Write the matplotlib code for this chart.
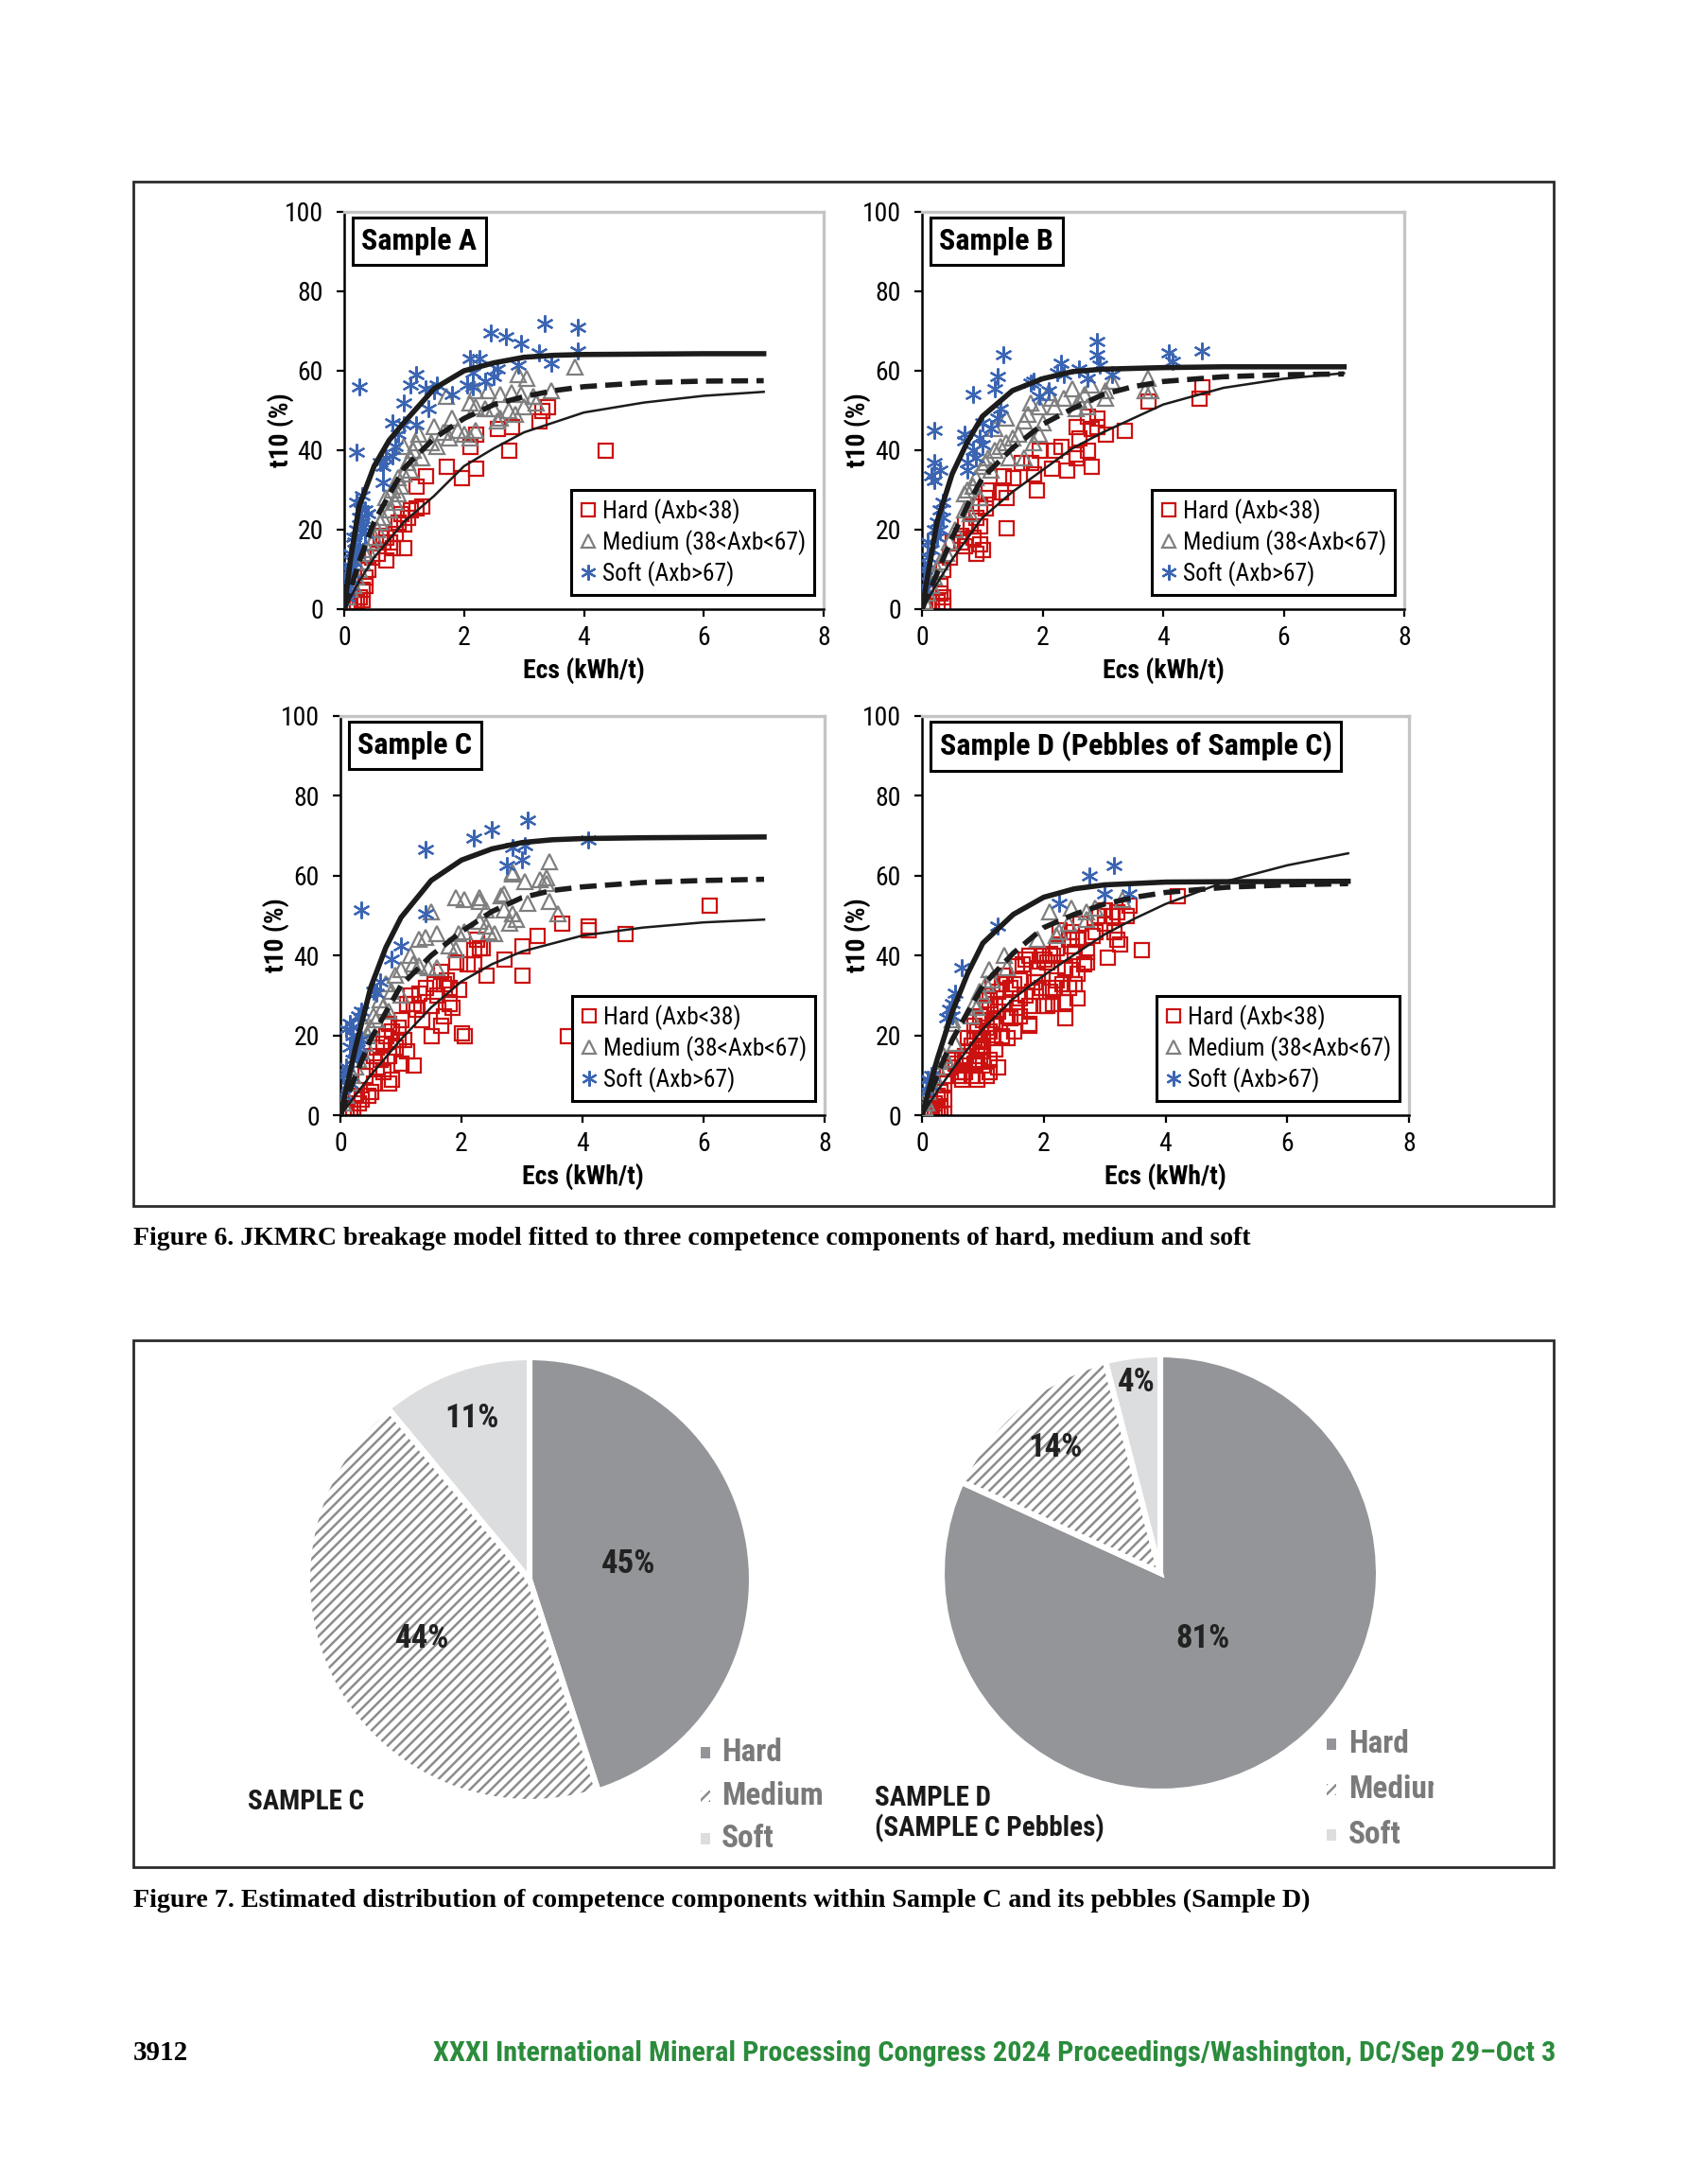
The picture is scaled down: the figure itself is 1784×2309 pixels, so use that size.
import matplotlib
matplotlib.use('Agg')
import matplotlib.pyplot as plt
from matplotlib.patches import Rectangle
from matplotlib.transforms import Bbox
import numpy as np

W, H, DPI = 1784, 2309, 200
NARROW = ['Roboto Condensed', 'Liberation Sans Narrow', 'Liberation Sans', 'DejaVu Sans']
SERIF = ['Liberation Serif', 'DejaVu Serif']
plt.rcParams['font.family'] = NARROW
plt.rcParams['hatch.linewidth'] = 0.9

# ---------------- data: Figure 6 scatter (Ecs kWh/t, t10 %) ----------------
legend_labels = ['Hard (Axb<38)', 'Medium (38<Axb<67)', 'Soft (Axb>67)']
panel_titles = ['Sample A', 'Sample B', 'Sample C', 'Sample D (Pebbles of Sample C)']
x_ticks = [0, 2, 4, 6, 8]
y_ticks = [0, 20, 40, 60, 80, 100]

A_hard = [(4.35,40),(3.4,51),(3.3,50),(3.25,47.5),(2.8,46),(2.55,45.5),(2.2,44),(2.1,41),(2.75,40),(1.7,36),
          (2.2,35.5),(1.95,33),(1.35,33.5),(1.2,31),(1.3,26),(1.2,25.5),(1.1,25),(1.05,23),(1.0,21.5),(0.95,24),
          (0.9,22),(0.85,19),(0.7,18),(0.65,17),(0.6,18.5),(0.75,17),(0.8,15.5),(1.0,15.5),(0.7,12.5),(0.55,14),
          (0.45,13),(0.35,6),(0.3,5),(0.25,3),(0.3,2.5),(0.2,2),(0.1,1),(0.05,0.5),(0.15,1.5),(0.35,8),(0.4,10)]
A_medium = [(3.85,61),(2.9,59),(3.05,58),(3.45,55),(2.2,55),(2.4,55),(2.6,54),(2.8,54.5),(2.95,54),(3.15,53.5),
            (3.2,52),(1.7,53.5),(2.1,52),(2.2,51),(2.35,50.5),(2.5,50.5),(2.6,48),(2.55,47.5),(2.75,50),(2.85,49),
            (3.0,51),(1.8,48),(1.5,46),(1.65,44.5),(1.75,43),(1.9,45),(2.0,44),(2.1,43),(2.2,45),(1.45,42),
            (1.55,41),(1.25,44),(1.15,40),(1.3,38),(1.0,41),(1.05,37),(1.1,35),(0.9,33),(0.95,31),(0.8,30),
            (0.85,27),(0.75,25),(0.65,23),(0.7,28),(0.55,20),(0.5,18),(0.4,15),(0.3,12),(0.25,10),(0.2,8),
            (0.1,5),(0.05,3),(0.15,6),(0.35,14),(0.45,17),(0.6,22),(0.9,29),(1.1,38),(1.2,42),(1.0,34)]
A_soft = [(0.25,56),(0.2,39.5),(2.45,69.5),(2.7,68.5),(2.95,67),(3.35,72),(3.9,71),(3.9,65),(3.25,64.5),(3.45,62),
          (2.9,61.5),(2.1,63),(2.25,63),(2.15,59.5),(2.5,58.5),(2.55,60.5),(2.35,57.5),(2.05,56.5),(2.15,56),(1.2,59),
          (1.1,56.5),(1.35,55.5),(1.5,55),(1.55,56.5),(1.8,54),(1.0,52),(1.4,50.5),(0.8,47),(1.0,46.5),(1.2,46.5),
          (0.9,44),(0.85,41),(0.6,37),(0.7,38),(0.65,36),(0.8,38.5),(0.65,32),(0.3,28.5),(0.2,27),(0.35,25),
          (0.4,24),(0.25,23),(0.3,21),(0.2,20),(0.15,18),(0.25,16),(0.1,14),(0.15,12),(0.1,10),(0.05,8),
          (0.1,6),(0.05,4),(0.3,22),(0.35,19),(0.2,14),(0.08,11),(0.12,9),(0.04,3),(0.18,17),(0.28,25)]

B_hard = [(4.65,56),(4.6,53),(3.75,52.5),(3.35,45),(3.05,44),(2.9,48),(2.9,46),(2.75,48.5),(2.8,45.5),(2.75,40),
          (2.8,36),(2.55,46),(2.6,43),(2.55,39),(2.55,38),(2.4,35),(2.3,41),(2.2,40),(2.15,35.5),(1.95,40),
          (1.9,30),(1.8,37),(1.85,34),(1.65,37),(1.5,33),(1.35,33.5),(1.4,28),(1.3,29.5),(1.4,20.5),(1.1,30),
          (1.05,28),(1.05,25.5),(0.95,26),(0.9,23),(0.95,21),(0.8,21),(0.7,21.5),(0.65,18.5),(0.65,17),(0.7,16),
          (0.85,18),(0.95,16.5),(0.9,14),(1.0,15),(0.5,17),(0.45,13),(0.35,10),(0.3,6),(0.3,4),(0.25,2),
          (0.15,2),(0.1,1),(0.05,0.5),(0.35,1),(0.35,3)]
B_medium = [(3.75,58),(3.7,55),(3.8,55),(3.15,57.5),(3.05,55),(3.05,53),(2.8,56.5),(2.7,54),(2.6,52.5),(2.55,50.5),
            (2.75,51),(2.5,55.5),(2.35,53),(2.2,51),(2.1,54.5),(2.15,53),(1.95,51),(2.0,47),(1.8,52),(1.75,49),
            (1.7,47.5),(1.95,44),(1.85,42),(1.6,44),(1.5,43),(1.4,42),(1.3,41),(1.45,38),(1.7,38),(1.2,40),
            (1.1,38),(1.05,37),(1.0,36),(1.15,35),(1.2,45.5),(1.4,48),(0.9,33),(0.85,31),(0.75,30),(0.7,29),
            (0.95,28),(0.8,24),(0.7,25),(0.55,20),(0.45,17),(0.4,14),(0.3,12),(0.25,10),(0.2,8),(0.15,6),
            (0.1,4),(0.05,2)]
B_soft = [(1.35,64),(1.25,58.5),(1.2,55.5),(0.85,54),(1.3,50.5),(1.25,48),(1.15,45.5),(1.0,47),(0.95,43),(0.85,40),
          (0.7,42.5),(0.7,44),(0.75,37),(0.75,35),(0.9,38),(1.0,41.5),(0.2,45),(0.2,37),(0.3,35),(0.15,33.5),
          (0.2,32.5),(0.35,27),(0.3,25),(0.25,22),(0.2,20),(0.25,18),(0.1,17),(0.15,15),(0.1,13),(0.05,10),
          (0.1,7),(0.05,5),(0.3,20),(0.35,23),(1.85,57.5),(1.8,57),(1.95,53.5),(2.1,55),(2.25,59.5),(2.3,62),
          (2.35,59),(2.6,60.5),(2.75,58),(2.9,67.5),(2.9,64),(2.95,61.5),(3.15,59),(4.1,64.5),(4.15,62.5),(4.65,65)]

C_hard = [(6.1,52.5),(4.7,45.5),(4.1,47.5),(4.1,46.5),(3.65,48),(3.25,45),(3.0,42.5),(3.0,35),(2.7,39),(2.4,35),
          (2.3,42),(2.2,41.5),(2.25,44),(2.35,42),(2.1,38),(2.2,38),(1.9,38.5),(1.65,36),(1.75,34),(1.7,33),
          (1.55,33),(1.6,30),(1.8,32),(1.95,31.5),(1.4,32),(1.3,30.5),(1.15,30),(1.2,28),(1.1,28),(1.25,26.5),
          (1.5,27.5),(1.35,24),(1.65,22.5),(1.5,20),(1.7,25),(1.8,28),(1.85,27),(2.0,20.5),(2.05,20),(3.75,20),
          (1.0,24),(0.95,22),(0.85,21),(0.8,23),(0.75,20),(0.7,18),(0.6,17),(0.55,15),(0.65,14),(0.8,15),
          (0.9,17),(1.05,19),(1.1,16),(1.2,12.5),(0.85,9),(0.8,8),(0.55,8),(0.5,6),(0.45,5),(0.35,4),
          (0.3,3),(0.2,2),(0.15,1.5),(0.1,1),(0.05,0.5),(0.25,5),(0.4,10),(0.6,12),(0.7,11),(0.95,19),(1.0,13)]
C_medium = [(3.45,63.5),(2.85,61),(2.85,60.5),(3.4,59.5),(3.3,59),(3.05,58.5),(3.4,58),(2.7,55.5),(2.65,55),(1.9,54.5),
            (2.05,54),(2.3,54.5),(2.3,53.5),(3.45,53.5),(3.1,53),(2.4,51.5),(1.5,51),(2.7,51.5),(2.85,50.5),(2.9,49),
            (2.8,48),(3.6,50.5),(2.3,48.5),(2.4,47.5),(2.45,46),(2.55,45.5),(1.6,45.5),(1.95,45.5),(2.05,46),(1.3,44),
            (1.4,44.5),(1.8,42.5),(1.9,41.5),(1.15,40),(1.2,38),(1.45,37),(1.6,37),(1.0,36.5),(1.3,37.5),(0.9,35),
            (0.75,33),(0.85,31),(1.0,30),(0.65,29),(0.7,27),(0.55,25),(0.8,26),(0.5,22),(0.45,20),(0.4,18),
            (0.35,16),(0.3,14),(0.25,12),(0.2,10),(0.15,8),(0.1,5),(0.05,3),(0.6,24)]
C_soft = [(0.35,51.5),(1.4,66.5),(2.2,69.5),(2.5,71.5),(3.1,74),(2.85,67),(3.05,67.5),(3.0,64),(2.75,62.5),(4.1,69),
          (1.4,50.5),(1.0,42.5),(0.85,39),(0.65,33.5),(0.55,31),(0.6,30.5),(0.35,26),(0.3,25),(0.15,23),(0.1,21.5),
          (0.2,20),(0.25,18.5),(0.3,17.5),(0.15,17),(0.25,16),(0.3,15),(0.2,14),(0.1,12),(0.05,10),(0.15,8),
          (0.05,5),(0.2,22),(0.35,19),(0.28,16.5)]

D_hard = [(4.2,55),(3.6,41.5),(3.25,43),(3.2,44),(3.15,46),(3.05,39.5),(3.1,50),(3.2,51),(3.0,51.5),(3.4,52.5),
          (3.35,50),(3.0,48),(2.8,45),(2.7,41),(2.65,38),(2.7,38.5),(2.85,46),(2.55,44),(2.5,41),(2.45,42.5),
          (2.4,44),(2.35,37),(2.3,33),(2.45,36.5),(2.55,35.5),(2.5,33),(2.55,29.5),(2.4,32),(2.35,28.5),(2.35,24.5),
          (2.2,34),(2.15,32),(2.1,31),(2.15,28),(2.05,27.5),(2.0,27.5),(2.15,40),(2.1,40.5),(2.05,38.5),(2.0,39),
          (2.2,42),(2.25,46.5),(1.9,35),(1.85,33.5),(1.95,32),(1.8,31),(1.75,40),(1.7,39),(1.65,38),(1.55,37.5),
          (1.6,34),(1.5,33),(1.45,32),(1.55,27),(1.6,29.5),(1.75,27.5),(1.75,23),(1.75,22.5),(1.35,35),(1.3,33),
          (1.25,31),(1.35,28),(1.4,25),(1.45,24.5),(1.4,19.5),(1.25,26),(1.2,23),(1.15,24),(1.2,28),(1.1,29),
          (1.05,27),(1.0,24),(1.05,22),(1.1,21),(1.15,19.5),(1.2,16.5),(1.25,12),(1.0,17),(0.95,19),(0.9,21),
          (0.85,22.5),(0.95,15),(0.9,14),(0.85,13),(1.0,12.5),(1.1,11),(1.05,10),(0.8,17.5),(0.75,16),(0.7,15),
          (0.75,19.5),(0.7,11),(0.65,9),(0.6,11),(0.55,13),(0.5,14),(0.45,12),(0.8,10),(0.9,9),(0.4,10),
          (0.35,8),(0.3,6),(0.35,4),(0.3,2),(0.25,1),(0.2,3),(0.15,2),(0.1,1),(0.05,0.5),(0.2,0.5),
          (0.3,0.2),(0.35,0.5),(0.25,5),(1.3,20),(1.5,21),(1.6,25),(1.7,30),(1.9,37),(1.95,40),(2.6,48),
          (2.45,46),(2.9,50),(0.95,25),(1.05,30),(1.15,33),(0.85,19.5),(0.9,16.5),(1.0,19),(1.1,14),(0.65,14),(0.6,10)]
D_medium = [(3.3,54),(2.85,52),(2.7,51),(2.45,52),(2.1,51),(2.7,49),(2.4,48),(2.25,46),(2.2,45),(1.9,44),
            (1.35,40),(1.4,37),(1.1,36.5),(1.05,33),(1.15,34),(0.95,31),(1.0,30),(0.85,28),(0.9,27),(0.8,25),
            (0.5,23),(0.5,24),(0.55,18),(0.35,15),(0.3,13.5),(0.4,14),(0.25,12),(0.2,10),(0.15,8),(0.1,6),
            (0.05,4),(0.08,3),(0.05,2)]
D_soft = [(3.15,62.5),(2.75,60),(3.0,55.5),(3.4,55.5),(2.25,53),(1.25,47.5),(0.65,37),(0.55,30.5),(0.5,28),(0.45,26.5),
          (0.5,25),(0.4,24.5),(0.15,10),(0.1,9),(0.12,7.5),(0.08,6)]

# fitted JKMRC model curves
A_fit_hard = [(0,0),(0.25,7),(0.5,13),(1,22),(1.5,28.5),(2,36),(2.5,40.5),(3,44.5),(4,49.5),(5,52),(6,53.7),(7,54.7)]
A_fit_medium = [(0,0),(0.25,12),(0.5,22),(1,35.5),(1.5,43),(2,48),(2.5,51.5),(3,53.5),(3.5,55),(4,56),(5,57),(6,57.4),(7,57.5)]
A_fit_soft = [(0,0),(0.1,12),(0.25,26),(0.5,36),(0.75,42.5),(1,47),(1.5,55.5),(2,60),(2.5,62),(3,63.4),(3.5,63.9),(4,64.1),(5,64.2),(6,64.3),(7,64.3)]
B_fit_hard = [(0,0),(0.25,6.5),(0.5,12.5),(1,23),(1.5,29.5),(2,35),(2.5,40.5),(3,44.5),(4,51.5),(5,55.7),(6,58),(7,59.4)]
B_fit_medium = [(0,0),(0.25,9),(0.5,18),(0.75,26),(1,33),(1.5,40.5),(2,46.5),(2.5,50.5),(3,54),(3.5,56),(4,57.3),(5,58.5),(6,59),(7,59.2)]
B_fit_soft = [(0,0),(0.25,22),(0.5,34),(0.75,42),(1,48.5),(1.5,55),(2,58),(2.5,59.8),(3,60.4),(4,60.8),(5,61),(7,61)]
C_fit_hard = [(0,0),(0.25,5),(0.5,10),(1,19),(1.5,27),(2,33.5),(2.5,37.8),(3,41),(4,45),(5,47),(6,48.3),(7,49)]
C_fit_medium = [(0,0),(0.25,10),(0.5,19),(1,32.5),(1.5,40),(2,46),(2.5,51),(3,54.5),(3.5,56.3),(4,57.2),(5,58.3),(6,58.8),(7,59.1)]
C_fit_soft = [(0,0),(0.25,17),(0.5,32),(0.75,42),(1,49.5),(1.5,58.8),(2,63.9),(2.5,66.7),(3,68.3),(3.5,69),(4,69.3),(5,69.5),(7,69.7)]
D_fit_hard = [(0,0),(0.25,6),(0.5,11.4),(1,21.6),(1.5,29.2),(2,35),(2.5,40.2),(3,45.3),(3.5,49.3),(4,52.9),(5,58.6),(6,62.6),(7,65.6)]
D_fit_medium = [(0,0),(0.25,10),(0.5,19),(1,32.5),(1.5,40.6),(2,47),(2.5,50.3),(3,52.9),(3.5,54.6),(4,55.8),(5,57.1),(6,57.7),(7,58)]
D_fit_soft = [(0,0),(0.25,14),(0.5,26),(0.75,35.5),(1,43.1),(1.5,50.3),(2,54.6),(2.5,56.7),(3,57.7),(4,58.4),(5,58.5),(7,58.6)]

# ---------------- data: Figure 7 pies ----------------
pie_categories = ['Hard', 'Medium', 'Soft']
pie_C_values = [45, 44, 11]
pie_D_values = [81, 14, 4]
pie_C_labels = ['45%', '44%', '11%']
pie_D_labels = ['81%', '14%', '4%']

caption6 = 'Figure 6. JKMRC breakage model fitted to three competence components of hard, medium and soft'
caption7 = 'Figure 7. Estimated distribution of competence components within Sample C and its pebbles (Sample D)'
page_number = '3912'
footer = 'XXXI International Mineral Processing Congress 2024 Proceedings/Washington, DC/Sep 29\u2013Oct 3'

# ---------------- styles ----------------
RED = '#cc1111'
GRAY = '#7f7f7f'
BLUE = '#3b65b3'
LINE = '#1c1c1c'
HARD_C = '#939598'
SOFT_C = '#dcdddf'
HATCH_C = '#8c8c8c'

fig = plt.figure(figsize=(W / DPI, H / DPI), dpi=DPI)
fig.patch.set_facecolor('white')


def fx(p):
    return p / W


def fy(p):
    return 1 - p / H


def axes_px(x0, y0, x1, y1):
    return fig.add_axes([fx(x0), fy(y1), (x1 - x0) / W, (y1 - y0) / H])


def xy(pts):
    a = np.array(pts, dtype=float)
    return a[:, 0], a[:, 1]


def scatter_panel(box, title, hard, medium, soft, fh, fm, fs):
    ax = axes_px(*box)
    x, y = xy(hard)
    ax.plot(x, y, ls='none', marker='s', ms=5.4, mfc='none', mec=RED, mew=0.8, label=legend_labels[0], zorder=2)
    x, y = xy(medium)
    ax.plot(x, y, ls='none', marker='^', ms=5.8, mfc='none', mec=GRAY, mew=0.8, label=legend_labels[1], zorder=3)
    x, y = xy(soft)
    ax.plot(x, y, ls='none', marker=(6, 2, 0), ms=6.5, mec=BLUE, mew=0.8, label=legend_labels[2], zorder=4)
    x, y = xy(fs)
    ax.plot(x, y, color=LINE, lw=2.0, zorder=5, solid_joinstyle='round')
    x, y = xy(fm)
    ax.plot(x, y, color=LINE, lw=2.0, ls=(0, (3.2, 1.6)), zorder=5)
    x, y = xy(fh)
    ax.plot(x, y, color=LINE, lw=0.9, zorder=5)
    ax.set_xlim(0, 8)
    ax.set_ylim(0, 100)
    ax.set_xticks(x_ticks)
    ax.set_yticks(y_ticks)
    ax.tick_params(direction='out', length=3, width=0.8, labelsize=10, pad=3, colors='black')
    ax.tick_params(axis='y', pad=5)
    for s in ('left', 'bottom'):
        ax.spines[s].set_color('black')
        ax.spines[s].set_linewidth(0.9)
    for s in ('top', 'right'):
        ax.spines[s].set_color('#c4c4c4')
        ax.spines[s].set_linewidth(1.2)
    ax.set_xlabel('Ecs (kWh/t)', fontsize=10, fontweight='bold')
    ax.set_ylabel('t10 (%)', fontsize=10, fontweight='bold')
    ax.xaxis.set_label_coords(0.5, -0.12)
    ax.yaxis.set_label_coords(-0.105, 0.45)
    ax.text(0.036, 0.962, title, transform=ax.transAxes, ha='left', va='top', fontsize=11.5, fontweight='bold',
            bbox=dict(boxstyle='square,pad=0.3', fc='white', ec='black', lw=1.1), zorder=6)
    leg = ax.legend(loc='lower right', bbox_to_anchor=(0.981, 0.035), borderaxespad=0, fontsize=9.2,
                    frameon=True, fancybox=False, framealpha=1, edgecolor='black', handlelength=0.7,
                    handletextpad=0.25, labelspacing=0.25, borderpad=0.35, markerscale=0.9)
    leg.get_frame().set_linewidth(1.1)
    leg.set_zorder(7)
    return ax


scatter_panel((364, 224, 871, 644), panel_titles[0], A_hard, A_medium, A_soft, A_fit_hard, A_fit_medium, A_fit_soft)
scatter_panel((975, 224, 1485, 644), panel_titles[1], B_hard, B_medium, B_soft, B_fit_hard, B_fit_medium, B_fit_soft)
scatter_panel((360, 757, 872, 1179), panel_titles[2], C_hard, C_medium, C_soft, C_fit_hard, C_fit_medium, C_fit_soft)
scatter_panel((975, 757, 1490, 1179), panel_titles[3], D_hard, D_medium, D_soft, D_fit_hard, D_fit_medium, D_fit_soft)


def frame(x0, y0, x1, y1):
    fig.add_artist(Rectangle((fx(x0), fy(y1)), (x1 - x0) / W, (y1 - y0) / H, transform=fig.transFigure,
                             fill=False, ec='#2b2b2b', lw=1.0))


frame(141, 192, 1643, 1275)
frame(141, 1417, 1643, 1974)


def pie_panel(cx, cy, r, values, labels, label_r):
    ax = axes_px(cx - r, cy - r, cx + r, cy + r)
    wedges, _ = ax.pie(values, startangle=90, counterclock=False, colors=[HARD_C, 'white', SOFT_C],
                       wedgeprops=dict(linewidth=0))
    wedges[1].set_hatch('//////')
    wedges[1].set_edgecolor(HATCH_C)
    ax.pie(values, startangle=90, counterclock=False, wedgeprops=dict(fill=False, edgecolor='white', linewidth=2.2))
    ax.set_xlim(-1, 1)
    ax.set_ylim(-1, 1)
    ax.set_aspect('equal')
    for w, lab, rr in zip(wedges, labels, label_r):
        th = np.deg2rad((w.theta1 + w.theta2) / 2)
        ax.text(rr * np.cos(th), rr * np.sin(th), lab, ha='center', va='center', fontsize=12.5,
                fontweight='bold', color='#222222')
    return ax


pie_panel(560, 1670, 235, pie_C_values, pie_C_labels, [0.45, 0.55, 0.77])
pie_panel(1227, 1663, 231, pie_D_values, pie_D_labels, [0.36, 0.75, 0.88])


def pie_legend(sx, tx, rows, clip_right=None):
    fcs = [HARD_C, 'white', SOFT_C]
    for cat, fc, ry in zip(pie_categories, fcs, rows):
        rect = Rectangle((fx(sx - 5), fy(ry + 6)), 10 / W, 12 / H, transform=fig.transFigure,
                         fc=fc, ec=HATCH_C if fc == 'white' else 'none', lw=0,
                         hatch='//////' if fc == 'white' else None)
        fig.add_artist(rect)
        t = fig.text(fx(tx), fy(ry), cat, ha='left', va='center', fontsize=12, fontweight='bold', color='#7a7a7a')
        if clip_right is not None:
            t.set_clip_on(True)
            t.set_clip_box(Bbox.from_extents(0, 0, clip_right, H))


pie_legend(746, 763, [1853, 1899, 1944])
pie_legend(1408, 1426, [1844, 1892, 1940], clip_right=1516)

fig.text(fx(262), fy(1905), 'SAMPLE C', ha='left', va='center', fontsize=10.5, fontweight='bold', color='#1a1a1a')
fig.text(fx(925), fy(1901), 'SAMPLE D', ha='left', va='center', fontsize=10.5, fontweight='bold', color='#1a1a1a')
fig.text(fx(925), fy(1933), '(SAMPLE C Pebbles)', ha='left', va='center', fontsize=10.5, fontweight='bold', color='#1a1a1a')

fig.text(fx(141), fy(1309), caption6, ha='left', va='center', fontsize=10, fontweight='bold', family=SERIF)
fig.text(fx(141), fy(2009), caption7, ha='left', va='center', fontsize=10.1, fontweight='bold', family=SERIF)
fig.text(fx(141), fy(2171), page_number, ha='left', va='center', fontsize=10.5, fontweight='bold', family=SERIF)
fig.text(fx(1645), fy(2171), footer, ha='right', va='center', fontsize=10.9, fontweight='bold', color='#2b8c3c')

fig.savefig('out.png', dpi=DPI, facecolor='white')
